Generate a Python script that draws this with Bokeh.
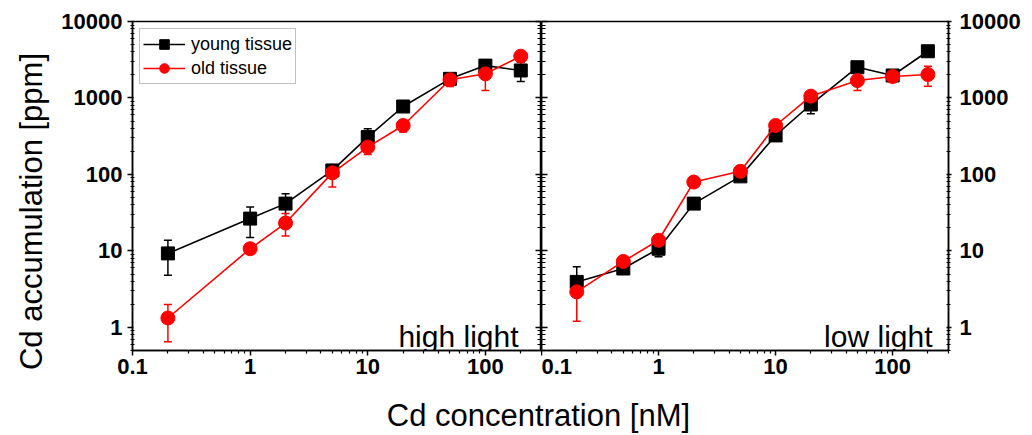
import math
from bokeh.plotting import figure
from bokeh.models import (ColumnDataSource, LogAxis, FixedTicker, CustomJSTickFormatter,
                          Whisker, TeeHead, Legend, LegendItem, Label, Range1d)
from bokeh.layouts import row, column
from bokeh.embed import file_html
from bokeh.resources import INLINE

# ---------------- data ----------------
conc_high = [0.2, 1, 2, 5, 10, 20, 50, 100, 200]
young_high = [9.3, 26.5, 41.6, 113, 308, 774, 1780, 2650, 2290]
young_high_up = [13.8, 37.5, 56, 132, 396, 830, 1900, 2900, 2930]
young_high_lo = [4.8, 15, 25, 92, 254, 720, 1650, 2400, 1640]
old_high = [1.33, 10.7, 23.2, 105, 228, 437, 1730, 2070, 3520]
old_high_up = [2.0, 11.8, 30.8, 122, 265, 470, 1850, 2600, 3700]
old_high_lo = [0.65, 9.6, 15.7, 68.5, 183, 358, 1415, 1254, 3350]

conc_low = [0.2, 0.5, 1, 2, 5, 10, 20, 50, 100, 200]
young_low = [3.94, 5.9, 10.7, 41.6, 94.5, 324, 822, 2525, 1968, 4085]
young_low_up = [6.2, 6.3, 11.5, 43, 100, 340, 870, 2650, 2050, 4300]
young_low_lo = [3.0, 5.5, 8.4, 40, 90, 310, 623, 2400, 1900, 3900]
old_low = [2.92, 7.3, 13.8, 79.6, 110, 437, 1057, 1690, 1910, 2028]
old_low_up = [3.5, 7.8, 14.5, 85, 116, 470, 1130, 2160, 2050, 2600]
old_low_lo = [1.21, 6.8, 13, 75, 104, 410, 990, 1254, 1780, 1426]

x_major = [0.1, 1, 10, 100]
y_major = [1, 10, 100, 1000, 10000]
series_names = ["young tissue", "old tissue"]
panel_names = ["high light", "low light"]
x_title = "Cd concentration [nM]"
y_title = "Cd accumulation [ppm]"

X_MIN, X_MAX = 0.1, 300
Y_MIN, Y_MAX = 0.5, 10000
x_minor = [m * 10 ** k for k in range(-1, 3) for m in range(2, 10) if m * 10 ** k <= X_MAX]
y_minor = [m * 10 ** k for k in range(-1, 4) for m in range(2, 10) if Y_MIN <= m * 10 ** k <= Y_MAX]

FONT = "Liberation Sans"
BLACK = "#000000"
RED = "#ff0000"

TOP_B = 21
FRAME_H = 329
BOTTOM_B = 40
PANEL_H = TOP_B + FRAME_H + BOTTOM_B
YT_W = 50

num_fmt = CustomJSTickFormatter(code="return String(Number(tick.toPrecision(6)))")


def style_axis(ax, major, minor, labels, t_in, t_out, m_in, m_out, standoff):
    ax.ticker = FixedTicker(ticks=major, minor_ticks=minor)
    if labels:
        ax.formatter = num_fmt
        ax.major_label_text_font = FONT
        ax.major_label_text_font_size = "22px"
        ax.major_label_text_font_style = "bold"
        ax.major_label_text_color = BLACK
        ax.major_label_standoff = standoff
    else:
        ax.formatter = CustomJSTickFormatter(code="return ''")
        ax.major_label_text_font_size = "0px"
        ax.major_label_standoff = 0
    ax.axis_line_color = BLACK
    ax.axis_line_width = 1.5
    ax.major_tick_line_color = BLACK
    ax.major_tick_line_width = 1.5
    ax.minor_tick_line_color = BLACK
    ax.minor_tick_line_width = 1.2
    ax.major_tick_in = t_in
    ax.major_tick_out = t_out
    ax.minor_tick_in = m_in
    ax.minor_tick_out = m_out
    ax.axis_label = None


def make_panel(conc, yv, yu, yl, ov, ou, ol, frame_w, left_b, right_b, side):
    p = figure(x_axis_type="log", y_axis_type="log",
               x_range=Range1d(X_MIN, X_MAX), y_range=Range1d(Y_MIN, Y_MAX),
               frame_width=frame_w, frame_height=FRAME_H,
               min_border_left=left_b, min_border_right=right_b,
               min_border_top=TOP_B, min_border_bottom=BOTTOM_B,
               toolbar_location=None, output_backend="svg",
               y_axis_location=side)
    p.grid.visible = False
    p.outline_line_color = BLACK
    p.outline_line_width = 1.5
    p.background_fill_color = "white"
    p.border_fill_color = "white"

    style_axis(p.xaxis[0], x_major, x_minor, True, 0, 5, 0, 3, 3)
    if side == "left":
        style_axis(p.yaxis[0], y_major, y_minor, True, 1, 5, 2, 2, 5)
        other = LogAxis()
        style_axis(other, y_major, y_minor, False, 6, 0, 4, 0, 0)
        p.add_layout(other, "right")
    else:
        style_axis(p.yaxis[0], y_major, y_minor, True, 2, 3, 2, 2, 8)
        other = LogAxis()
        style_axis(other, y_major, y_minor, False, 6, 0, 4, 0, 0)
        p.add_layout(other, "left")

    sy = ColumnDataSource(dict(x=conc, y=yv, up=yu, lo=yl))
    so = ColumnDataSource(dict(x=conc, y=ov, up=ou, lo=ol))

    for src, col in ((sy, BLACK), (so, RED)):
        w = Whisker(source=src, base="x", upper="up", lower="lo", dimension="height",
                    line_color=col, line_width=1.5,
                    upper_head=TeeHead(size=8, line_color=col, line_width=1.5),
                    lower_head=TeeHead(size=8, line_color=col, line_width=1.5))
        p.add_layout(w)

    ly = p.line("x", "y", source=sy, line_color=BLACK, line_width=1.6)
    my = p.scatter("x", "y", source=sy, marker="square", size=13,
                   fill_color=BLACK, line_color=BLACK)
    lo_ = p.line("x", "y", source=so, line_color=RED, line_width=1.6)
    mo = p.scatter("x", "y", source=so, marker="circle", size=14,
                   fill_color=RED, line_color=RED)
    return p, (ly, my), (lo_, mo)


pA, ry, ro = make_panel(conc_high, young_high, young_high_up, young_high_lo,
                        old_high, old_high_up, old_high_lo, 409, 132 - YT_W, 0, "left")
pB, _, _ = make_panel(conc_low, young_low, young_low_up, young_low_lo,
                      old_low, old_low_up, old_low_lo, 407, 0, 76, "right")

legend = Legend(items=[LegendItem(label=series_names[0], renderers=list(ry)),
                       LegendItem(label=series_names[1], renderers=list(ro))],
                location="top_left", margin=7, padding=3, spacing=0,
                glyph_width=42, glyph_height=24, label_height=22, label_standoff=6,
                label_text_font=FONT, label_text_font_size="18px", label_text_color=BLACK,
                border_line_color="#808080", border_line_width=1,
                background_fill_color="white", background_fill_alpha=1)
pA.add_layout(legend)

for p, name, xr in ((pA, panel_names[0], 23), (pB, panel_names[1], 16)):
    fw = p.frame_width
    p.add_layout(Label(x=fw - xr, y=14, x_units="screen", y_units="screen", text=name,
                       text_align="right", text_baseline="alphabetic",
                       text_font=FONT, text_font_size="30px", text_color=BLACK))

# y-axis title strip (wrapped in its own column so its frame spans the full height)
pY = figure(width=YT_W, height=PANEL_H, toolbar_location=None, output_backend="svg",
            min_border=0, x_axis_location=None, y_axis_location=None)
pY.outline_line_color = None
pY.grid.visible = False
pY.add_layout(Label(x=31, y=PANEL_H - 211, x_units="screen", y_units="screen", text=y_title,
                    angle=math.pi / 2, text_align="center", text_baseline="middle",
                    text_font=FONT, text_font_size="31px", text_color=BLACK))

# x-axis title strip
TW = YT_W + (132 - YT_W) + 409 + 407 + 76
pT = figure(width=TW, height=45, toolbar_location=None, output_backend="svg",
            min_border=0, x_axis_location=None, y_axis_location=None)
pT.outline_line_color = None
pT.grid.visible = False
pT.add_layout(Label(x=538, y=20, x_units="screen", y_units="screen", text=x_title,
                    text_align="center", text_baseline="middle",
                    text_font=FONT, text_font_size="31px", text_color=BLACK))

layout = column(row(column(pY), pA, pB, spacing=0), pT, spacing=0)

open("out.html", "w").write(file_html(layout, INLINE))
